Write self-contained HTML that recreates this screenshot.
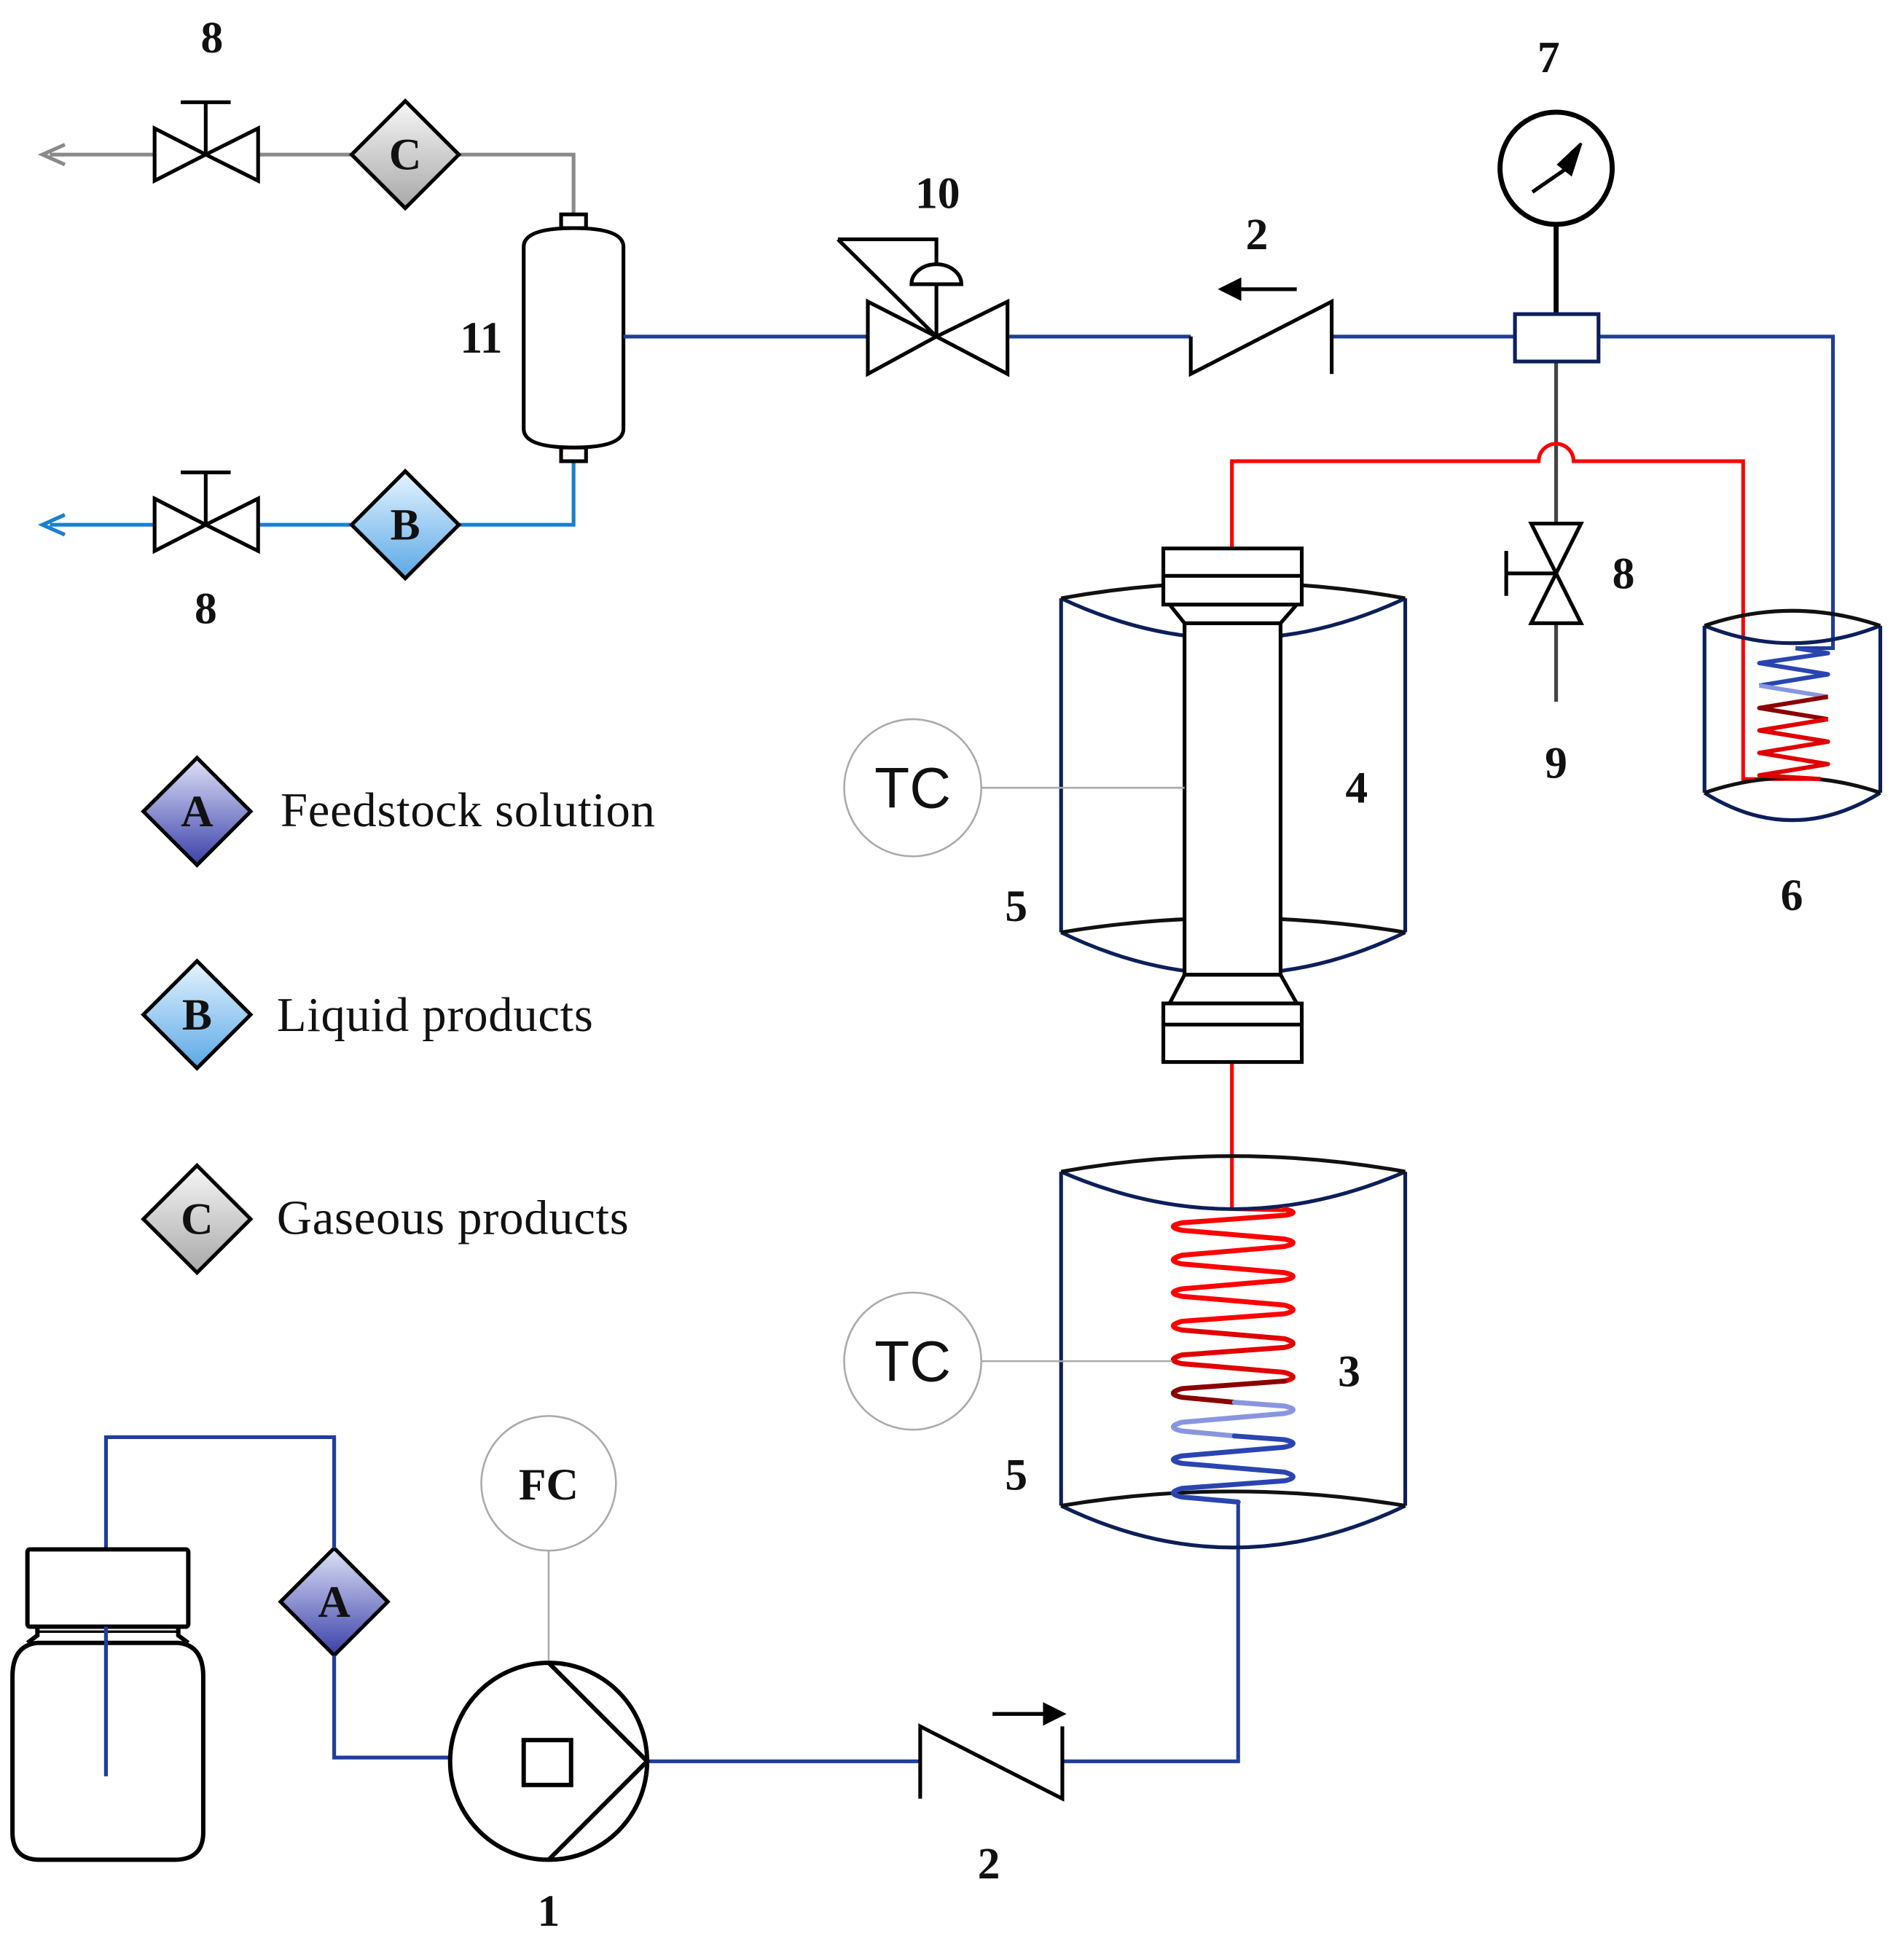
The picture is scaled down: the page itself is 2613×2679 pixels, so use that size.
<!DOCTYPE html>
<html><head><meta charset="utf-8"><style>
html,body{margin:0;padding:0;background:#fff}
svg{display:block}
.n{font-family:"Liberation Serif",serif;font-weight:bold;font-size:36px;fill:#111;text-anchor:middle}
.l{font-family:"Liberation Serif",serif;font-size:39px;fill:#111;letter-spacing:0.4px}
.tc{font-family:"Liberation Sans",sans-serif;font-size:46px;fill:#111;text-anchor:middle}
.d{font-family:"Liberation Serif",serif;font-weight:bold;font-size:36px;fill:#111;text-anchor:middle}
</style></head><body>
<svg width="2613" height="2679" viewBox="0 0 1527 1566" preserveAspectRatio="none" xmlns="http://www.w3.org/2000/svg">
<defs>
<linearGradient id="gA" x1="0" y1="0" x2="0" y2="1"><stop offset="0" stop-color="#dfe2f8"/><stop offset="1" stop-color="#3a40a8"/></linearGradient>
<linearGradient id="gB" x1="0" y1="0" x2="0" y2="1"><stop offset="0" stop-color="#e6f4ff"/><stop offset="1" stop-color="#5aa8e6"/></linearGradient>
<linearGradient id="gC" x1="0" y1="0" x2="0" y2="1"><stop offset="0" stop-color="#f6f6f6"/><stop offset="1" stop-color="#a8a8a8"/></linearGradient>
</defs>
<g fill="none" stroke-linejoin="miter">
<polyline points="40,124 460,124 460,172" stroke="#8a8a8a" stroke-width="3"/>
<polyline points="52,116 34,124 52,132" stroke="#8a8a8a" stroke-width="3"/>
<polyline points="40,421 460,421 460,370" stroke="#1a7fd0" stroke-width="3"/>
<polyline points="52,413 34,421 52,429" stroke="#1a7fd0" stroke-width="3"/>
<g stroke="#000" stroke-width="3" fill="#fff">
<path d="M124,103 L124,145 L165,124 Z M207,103 L207,145 L165,124 Z"/>
<path d="M165,124 V82 M145,82 H185"/>
<path d="M124,400 L124,442 L165,421 Z M207,400 L207,442 L165,421 Z"/>
<path d="M165,421 V379 M145,379 H185"/>
</g>
<g stroke="#000" stroke-width="3">
<path d="M325,81 L368,124 L325,167 L282,124 Z" fill="url(#gC)"/>
<path d="M325,378 L368,421 L325,464 L282,421 Z" fill="url(#gB)"/>
<path d="M158,608 L201,651 L158,694 L115,651 Z" fill="url(#gA)"/>
<path d="M158,771 L201,814 L158,857 L115,814 Z" fill="url(#gB)"/>
<path d="M158,935 L201,978 L158,1021 L115,978 Z" fill="url(#gC)"/>
<path d="M268,1242 L311,1285 L268,1328 L225,1285 Z" fill="url(#gA)"/>
</g>
<g stroke="#000" stroke-width="3" fill="#fff">
<rect x="450" y="172" width="20" height="11"/>
<rect x="450" y="359" width="20" height="11"/>
<path d="M420,198 Q420,183 460,183 Q500,183 500,198 V344 Q500,359 460,359 Q420,359 420,344 Z"/>
</g>
<g stroke="#1f3d9c" stroke-width="3">
<line x1="500" y1="270" x2="696" y2="270"/>
<line x1="808" y1="270" x2="955" y2="270"/>
<line x1="1068" y1="270" x2="1215" y2="270"/>
<polyline points="1282,270 1470,270 1470,520 1440,520"/>
<polyline points="993,1205 993,1413 852,1413"/>
<line x1="519" y1="1413" x2="738" y2="1413"/>
<polyline points="361,1410 268,1410 268,1328"/>
<polyline points="268,1242 268,1153 85,1153 85,1425"/>
</g>
<g stroke="#000" stroke-width="3" fill="#fff">
<path d="M696,242 L696,300 L751,270 Z M808,242 L808,300 L751,270 Z"/>
<path d="M751,270 V228 M672,192 H751 V212 M672,192 L751,270" fill="none"/>
<path d="M731,228 A20,16 0 0 1 771,228 Z"/>
</g>
<g stroke="#000" stroke-width="3">
<path d="M955,270 V300 L1068,242 V300"/>
<line x1="1040" y1="232" x2="990" y2="232"/>
<path d="M994,225 L980,232 L994,239 Z" fill="#000"/>
</g>
<g stroke="#000" stroke-width="4">
<circle cx="1248" cy="135" r="45" fill="#fff"/>
<line x1="1248" y1="180" x2="1248" y2="252"/>
<line x1="1229" y1="154" x2="1258" y2="134" stroke-width="3"/>
<path d="M1268,115 L1250,132 L1260,140 Z" fill="#000" stroke-width="2"/>
</g>
<line x1="1248" y1="290" x2="1248" y2="420" stroke="#444" stroke-width="3"/>
<line x1="1248" y1="500" x2="1248" y2="563" stroke="#444" stroke-width="3"/>
<rect x="1215" y="252" width="67" height="38" stroke="#0c1f5a" stroke-width="3" fill="#fff"/>
<g stroke="#000" stroke-width="3" fill="#fff">
<path d="M1228,420 L1268,420 L1248,460 Z M1228,500 L1268,500 L1248,460 Z"/>
<path d="M1248,460 H1208 M1208,442 V478"/>
</g>
<path d="M988,440 V370 H1234 A14,14 0 0 1 1262,370 H1398 V625 H1460" stroke="#ff0000" stroke-width="3"/>
<line x1="988" y1="852" x2="988" y2="970" stroke="#ff0000" stroke-width="3"/>
<line x1="988" y1="970" x2="1030" y2="971" stroke="#ff0000" stroke-width="3"/>
<g stroke="#0c1f5a" stroke-width="3">
<path d="M851,480 V748 M1127,480 V748"/>
<path d="M851,480 Q989,545 1127,480"/>
<path d="M851,748 Q989,815 1127,748"/>
<path d="M851,480 Q989,455 1127,480" stroke="#111"/>
<path d="M851,748 Q989,725 1127,748" stroke="#111"/>
</g>
<g stroke="#000" stroke-width="3" fill="#fff">
<rect x="950" y="500" width="77" height="282"/>
<path d="M950,500 L938,485 H1040 L1027,500 Z"/>
<rect x="933" y="440" width="111" height="45"/>
<line x1="933" y1="462" x2="1044" y2="462"/>
<path d="M950,782 L938,805 H1040 L1027,782 Z"/>
<rect x="933" y="805" width="111" height="47"/>
<line x1="933" y1="822" x2="1044" y2="822"/>
</g>
<g stroke="#0c1f5a" stroke-width="3">
<path d="M851,940 V1208 M1127,940 V1208"/>
<path d="M851,940 Q989,1000 1127,940"/>
<path d="M851,1208 Q989,1275 1127,1208"/>
<path d="M851,940 Q989,915 1127,940" stroke="#111"/>
<path d="M851,1208 Q989,1185 1127,1208" stroke="#111"/>
</g>
<g stroke-width="4" stroke-linejoin="round" stroke-linecap="round" fill="none">
<path stroke="#ff0000" d="M1030,970 Q1044,973 1030,975 L948,981 Q934,984 948,987 L1030,994 Q1044,997 1030,1000 L948,1007 Q934,1011 948,1014 L1030,1021 Q1044,1024 1030,1027 L948,1034 Q934,1037 948,1040 L1030,1047 Q1044,1051 1030,1054 L948,1060 Q934,1064 948,1067"/>
<path stroke="#e00000" d="M948,1067 L1030,1074 Q1044,1078 1030,1081 L948,1087 Q934,1091 948,1094 L1030,1101 Q1044,1105 1030,1108"/>
<path stroke="#8b0000" d="M1030,1108 L948,1114 Q934,1118 948,1121 L990,1125"/>
<path stroke="#8896e0" d="M990,1125 L1030,1128 Q1044,1131 1030,1134 L948,1141 Q934,1145 948,1148 L990,1152"/>
<path stroke="#2a45b0" d="M990,1152 L1030,1155 Q1044,1158 1030,1161 L948,1168 Q934,1171 948,1174 L1030,1181 Q1044,1185 1030,1188 L948,1194 Q934,1198 948,1201 L993,1205"/>
</g>
<g stroke="#0c1f5a" stroke-width="3">
<path d="M1367,502 V636 M1508,502 V636"/>
<path d="M1367,502 Q1437,530 1508,502"/>
<path d="M1367,636 Q1437,680 1508,636"/>
<path d="M1367,502 Q1437,478 1508,502" stroke="#111"/>
<path d="M1367,636 Q1437,612 1508,636" stroke="#111"/>
</g>
<g stroke-width="3.5" stroke-linejoin="round">
<polyline stroke="#2a45b0" points="1440,520 1466,524 1411,532 1466,541 1411,550"/>
<polyline stroke="#8896e0" points="1411,550 1466,559"/>
<polyline stroke="#8b0000" points="1466,559 1411,568 1466,577"/>
<polyline stroke="#e00000" points="1466,577 1411,586 1466,595 1411,604 1466,613 1411,622 1460,625"/>
</g>
<g stroke="#aaa" stroke-width="1.5" fill="#fff">
<circle cx="732" cy="632" r="55"/>
<circle cx="732" cy="1092" r="55"/>
<circle cx="440" cy="1190" r="54"/>
<line x1="787" y1="632" x2="950" y2="632"/>
<line x1="787" y1="1092" x2="940" y2="1092"/>
<line x1="440" y1="1244" x2="440" y2="1335"/>
</g>
<g stroke="#000" stroke-width="3">
<path d="M738,1443 V1385 L852,1443 V1385"/>
<line x1="796" y1="1375" x2="840" y2="1375"/>
<path d="M838,1368 L852,1375 L838,1382 Z" fill="#000"/>
</g>
<g stroke="#000" stroke-width="3.5" fill="#fff">
<circle cx="440" cy="1413" r="79"/>
<path d="M440,1334 L519,1413 L440,1492" fill="none"/>
<rect x="420" y="1396" width="38" height="36"/>
</g>
<g stroke="#000" stroke-width="3.5" fill="none">
<rect x="22" y="1243" width="129" height="62" rx="2" fill="#fff"/>
<path d="M30,1305 V1312 L22,1318 M143,1305 V1312 L151,1318"/>
<line x1="30" y1="1309" x2="143" y2="1309" stroke-width="2"/>
<path d="M30,1318 H143 Q163,1320 163,1345 V1470 Q163,1492 140,1492 H32 Q10,1492 10,1470 V1345 Q10,1320 30,1318 Z"/>
</g>
<line x1="85" y1="1305" x2="85" y2="1425" stroke="#1f3d9c" stroke-width="3"/>
</g>
<text class="d" x="325" y="136">C</text>
<text class="d" x="325" y="433">B</text>
<text class="d" x="158" y="663">A</text>
<text class="d" x="158" y="826">B</text>
<text class="d" x="158" y="990">C</text>
<text class="d" x="268" y="1297">A</text>
<text class="l" x="225" y="663">Feedstock solution</text>
<text class="l" x="222" y="827">Liquid products</text>
<text class="l" x="222" y="990">Gaseous products</text>
<text class="n" x="170" y="42">8</text>
<text class="n" x="165" y="500">8</text>
<text class="n" x="386" y="283">11</text>
<text class="n" x="752" y="167">10</text>
<text class="n" x="1008" y="200">2</text>
<text class="n" x="1242" y="58">7</text>
<text class="n" x="1302" y="472">8</text>
<text class="n" x="1248" y="624">9</text>
<text class="n" x="1437" y="730">6</text>
<text class="n" x="1088" y="644">4</text>
<text class="n" x="815" y="739">5</text>
<text class="n" x="1082" y="1112">3</text>
<text class="n" x="815" y="1195">5</text>
<text class="n" x="793" y="1507">2</text>
<text class="n" x="440" y="1545">1</text>
<text class="n" x="440" y="1203">FC</text>
<text class="tc" x="732" y="648">TC</text>
<text class="tc" x="732" y="1108">TC</text>
</svg>
</body></html>
